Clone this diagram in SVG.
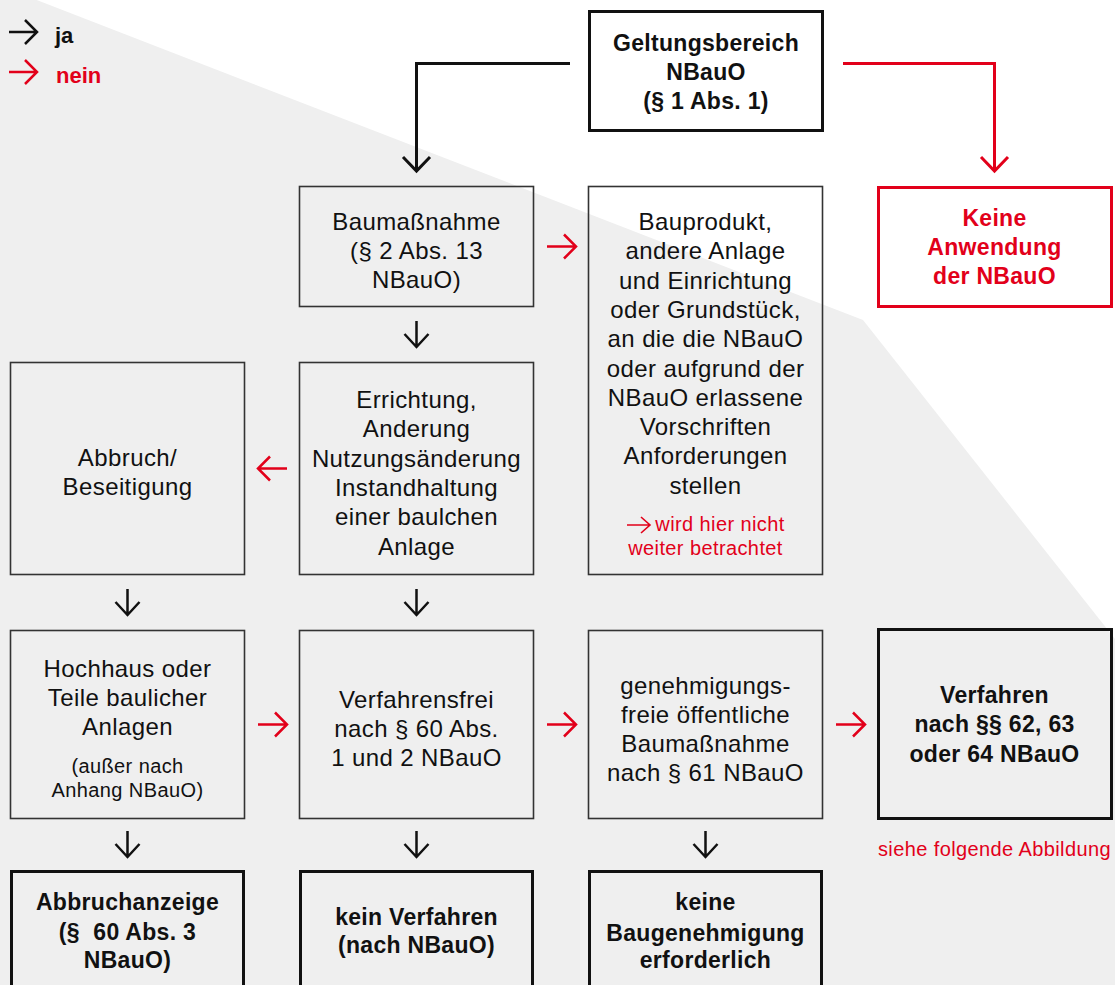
<svg xmlns="http://www.w3.org/2000/svg" width="1115" height="985" viewBox="0 0 1115 985">
<style>
.bg{fill:#efefef}
.thin{fill:none;stroke:#333;stroke-width:1.6}
.thick{fill:none;stroke:#111;stroke-width:3}
.redbox{fill:none;stroke:#e2001a;stroke-width:3}
.t{font-family:"Liberation Sans",Arial,sans-serif;font-size:24px;letter-spacing:0.4px;fill:#111;text-anchor:middle}
.b{font-family:"Liberation Sans",Arial,sans-serif;font-size:23px;font-weight:bold;letter-spacing:0.3px;fill:#111;text-anchor:middle}
.br{font-family:"Liberation Sans",Arial,sans-serif;font-size:23px;font-weight:bold;letter-spacing:0.3px;fill:#e2001a;text-anchor:middle}
.s{font-family:"Liberation Sans",Arial,sans-serif;font-size:20px;letter-spacing:0.4px;fill:#111;text-anchor:middle}
.sr{font-family:"Liberation Sans",Arial,sans-serif;font-size:20px;letter-spacing:0.4px;fill:#e2001a;text-anchor:middle}
.leg{font-family:"Liberation Sans",Arial,sans-serif;font-size:22px;font-weight:bold}
.ab{fill:none;stroke:#111;stroke-width:2.5}
.ar{fill:none;stroke:#e2001a;stroke-width:2.5}
.cb{fill:none;stroke:#111;stroke-width:3}
.cr{fill:none;stroke:#e2001a;stroke-width:3}
</style>
<polygon class="bg" points="0,0 36.7,0 863,320 1115,639 1115,985 0,985"/>

<g id="legend">
<path class="ab" d="M9,32 H37 M25,20 L37,32 L25,44"/>
<text class="leg" x="55" y="43" fill="#111">ja</text>
<path class="ar" d="M9,72 H37 M25,60 L37,72 L25,84"/>
<text class="leg" x="56" y="83" fill="#e2001a">nein</text>
</g>

<g id="connectors">
<path class="cb" d="M570,63.5 H416.5 V171"/>
<path class="cb" d="M403,157 L416.5,171 L430,157"/>
<path class="cr" d="M843,63.5 H994.5 V171"/>
<path class="cr" d="M981,157 L994.5,171 L1008,157"/>
<path class="ab" d="M416.5,321 V347 M404.5,334 L416.5,347 L428.5,334"/>
<path class="ab" d="M127.5,589 V615 M115.5,602 L127.5,615 L139.5,602"/>
<path class="ab" d="M416.5,589 V615 M404.5,602 L416.5,615 L428.5,602"/>
<path class="ab" d="M127.5,831 V857 M115.5,844 L127.5,857 L139.5,844"/>
<path class="ab" d="M416.5,831 V857 M404.5,844 L416.5,857 L428.5,844"/>
<path class="ab" d="M705.5,831 V857 M693.5,844 L705.5,857 L717.5,844"/>
<path class="ar" d="M547,246.5 H576 M564,234.5 L576,246.5 L564,258.5"/>
<path class="ar" d="M287,468.5 H258 M270,456.5 L258,468.5 L270,480.5"/>
<path class="ar" d="M258,724.5 H287 M275,712.5 L287,724.5 L275,736.5"/>
<path class="ar" d="M547,724.5 H576 M564,712.5 L576,724.5 L564,736.5"/>
<path class="ar" d="M836,724.5 H865 M853,712.5 L865,724.5 L853,736.5"/>
</g>

<g id="geltungsbereich">
<rect class="thick" x="589.5" y="11.5" width="233" height="119"/>
<text class="b" x="706" y="51">Geltungsbereich</text>
<text class="b" x="706" y="80">NBauO</text>
<text class="b" x="706" y="109">(§ 1 Abs. 1)</text>
</g>

<g id="keine-anwendung">
<rect class="redbox" x="878.5" y="187.5" width="233" height="119"/>
<text class="br" x="994.5" y="226">Keine</text>
<text class="br" x="994.5" y="255">Anwendung</text>
<text class="br" x="994.5" y="284">der NBauO</text>
</g>

<g id="baumassnahme">
<rect class="thin" x="299.5" y="186.5" width="234" height="120"/>
<text class="t" x="416.5" y="230">Baumaßnahme</text>
<text class="t" x="416.5" y="259">(§ 2 Abs. 13</text>
<text class="t" x="416.5" y="288">NBauO)</text>
</g>

<g id="bauprodukt">
<rect class="thin" x="588.5" y="186.5" width="234" height="388"/>
<text class="t" x="705.5" y="230">Bauprodukt,</text>
<text class="t" x="705.5" y="259.3">andere Anlage</text>
<text class="t" x="705.5" y="288.6">und Einrichtung</text>
<text class="t" x="705.5" y="317.9">oder Grundstück,</text>
<text class="t" x="705.5" y="347.2">an die die NBauO</text>
<text class="t" x="705.5" y="376.5">oder aufgrund der</text>
<text class="t" x="705.5" y="405.8">NBauO erlassene</text>
<text class="t" x="705.5" y="435.1">Vorschriften</text>
<text class="t" x="705.5" y="464.4">Anforderungen</text>
<text class="t" x="705.5" y="493.7">stellen</text>
<path class="ar" d="M627,525 H650 M641,517 L650,525 L641,533" style="stroke-width:1.6"/>
<text class="sr" x="720" y="531">wird hier nicht</text>
<text class="sr" x="705.5" y="555">weiter betrachtet</text>
</g>

<g id="abbruch">
<rect class="thin" x="10.5" y="362.5" width="234" height="212"/>
<text class="t" x="127.5" y="466">Abbruch/</text>
<text class="t" x="127.5" y="495">Beseitigung</text>
</g>

<g id="errichtung">
<rect class="thin" x="299.5" y="362.5" width="234" height="212"/>
<text class="t" x="416.5" y="408">Errichtung,</text>
<text class="t" x="416.5" y="437">Anderung</text>
<text class="t" x="416.5" y="467">Nutzungsänderung</text>
<text class="t" x="416.5" y="496">Instandhaltung</text>
<text class="t" x="416.5" y="525">einer baulchen</text>
<text class="t" x="416.5" y="555">Anlage</text>
</g>

<g id="hochhaus">
<rect class="thin" x="10.5" y="630.5" width="234" height="188"/>
<text class="t" x="127.5" y="677">Hochhaus oder</text>
<text class="t" x="127.5" y="706">Teile baulicher</text>
<text class="t" x="127.5" y="735">Anlagen</text>
<text class="s" x="127.5" y="773">(außer nach</text>
<text class="s" x="127.5" y="797">Anhang NBauO)</text>
</g>

<g id="verfahrensfrei">
<rect class="thin" x="299.5" y="630.5" width="234" height="188"/>
<text class="t" x="416.5" y="708">Verfahrensfrei</text>
<text class="t" x="416.5" y="737">nach § 60 Abs.</text>
<text class="t" x="416.5" y="766">1 und 2 NBauO</text>
</g>

<g id="genehmigungsfrei">
<rect class="thin" x="588.5" y="630.5" width="234" height="188"/>
<text class="t" x="705.5" y="694">genehmigungs-</text>
<text class="t" x="705.5" y="723">freie öffentliche</text>
<text class="t" x="705.5" y="752">Baumaßnahme</text>
<text class="t" x="705.5" y="781">nach § 61 NBauO</text>
</g>

<g id="verfahren">
<rect class="thick" x="878.5" y="629.5" width="233" height="189"/>
<text class="b" x="994.5" y="703">Verfahren</text>
<text class="b" x="994.5" y="732">nach §§ 62, 63</text>
<text class="b" x="994.5" y="762">oder 64 NBauO</text>
<text class="sr" x="994.5" y="856">siehe folgende Abbildung</text>
</g>

<g id="abbruchanzeige">
<rect class="thick" x="11.5" y="871.5" width="232" height="200"/>
<text class="b" x="127.5" y="910">Abbruchanzeige</text>
<text class="b" x="127.5" y="940" xml:space="preserve">(§  60 Abs. 3</text>
<text class="b" x="127.5" y="968">NBauO)</text>
</g>

<g id="kein-verfahren">
<rect class="thick" x="300.5" y="871.5" width="232" height="200"/>
<text class="b" x="416.5" y="925">kein Verfahren</text>
<text class="b" x="416.5" y="953">(nach NBauO)</text>
</g>

<g id="keine-baugenehmigung">
<rect class="thick" x="589.5" y="871.5" width="232" height="200"/>
<text class="b" x="705.5" y="910">keine</text>
<text class="b" x="705.5" y="941">Baugenehmigung</text>
<text class="b" x="705.5" y="968">erforderlich</text>
</g>
</svg>
